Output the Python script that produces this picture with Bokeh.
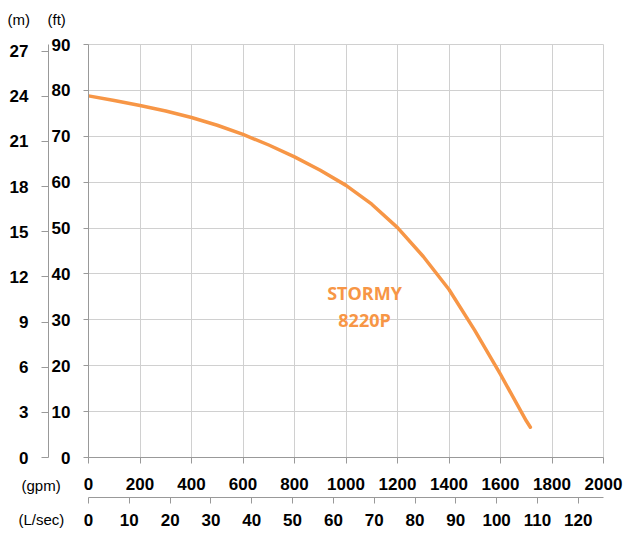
from bokeh.plotting import figure
from bokeh.models import Range1d, LinearAxis, FixedTicker, Label, Title
from bokeh.embed import file_html
from bokeh.resources import INLINE

# Pump curve: flow (gpm) vs head (ft)
flow_gpm = [0, 100, 200, 300, 400, 500, 600, 700, 800, 900, 1000, 1100,
            1200, 1300, 1400, 1500, 1600, 1700, 1716]
head_ft = [78.8, 77.8, 76.7, 75.5, 74.1, 72.4, 70.4, 68.1, 65.5, 62.6, 59.3, 55.2,
           50.1, 43.8, 36.6, 27.7, 18.1, 8.0, 6.6]

gpm_ticks = list(range(0, 2001, 200))
ft_ticks = list(range(0, 91, 10))
m_ticks = list(range(0, 28, 3))
ls_ticks = list(range(0, 121, 10))

series_label = ["STORMY", "8220P"]

GPM_MAX = 2000
FT_MAX = 90
GPM_PER_LS = 15.850
M_PER_FT = 0.3048

ORANGE = "#F79646"
GRID = "#d0d0d0"
AXIS = "#999999"
TICK_FONT = "Liberation Sans"

p = figure(width=623, height=534,
           x_range=Range1d(0, GPM_MAX), y_range=Range1d(0, FT_MAX),
           output_backend="svg", toolbar_location=None,
           min_border_left=88, min_border_right=20,
           min_border_top=44, min_border_bottom=77)
p.extra_y_ranges = {"m": Range1d(0, FT_MAX * M_PER_FT)}
p.extra_x_ranges = {"ls": Range1d(0, GPM_MAX / GPM_PER_LS)}

p.outline_line_color = GRID
p.background_fill_color = "white"
p.border_fill_color = "white"


def style_axis(ax, tick_out, standoff, color=AXIS):
    ax.axis_line_color = color
    ax.axis_line_width = 1
    ax.major_tick_line_color = color
    ax.major_tick_line_width = 1
    ax.major_tick_in = 0
    ax.major_tick_out = tick_out
    ax.minor_tick_line_color = None
    ax.major_label_text_font = TICK_FONT
    ax.major_label_text_font_style = "bold"
    ax.major_label_text_font_size = "17px"
    ax.major_label_text_color = "black"
    ax.major_label_standoff = standoff


def unit_title(txt, offset, pitch, slot=0):
    # the caption is the first line of a two-line title; the empty second line
    # and a negative standoff keep the side-panel slot at the wanted height
    fh = 17
    return Title(text=txt + "\n", align="left", offset=offset,
                 standoff=slot - (2 + fh + pitch), text_line_height=pitch / fh,
                 vertical_align="middle", text_font=TICK_FONT, text_font_size="15px",
                 text_font_style="normal", text_color="black")


# gpm (inner bottom)
xa = p.xaxis[0]
xa.ticker = FixedTicker(ticks=gpm_ticks)
style_axis(xa, 6, 14)

# ft (inner left)
ya = p.yaxis[0]
ya.ticker = FixedTicker(ticks=ft_ticks)
style_axis(ya, 5, 13)

# m (outer left)
ma = LinearAxis(y_range_name="m", ticker=FixedTicker(ticks=m_ticks))
style_axis(ma, 7, 13)
p.add_layout(ma, "left")

# unit captions, kept in the side panels so they are not clipped to the frame
p.add_layout(unit_title("(m)", -81, 51), "above")
p.add_layout(unit_title("(ft)", -41, 51), "above")
p.add_layout(unit_title("(gpm)", -67, 20, slot=5), "below")

# L/sec (outer bottom)
la = LinearAxis(x_range_name="ls", ticker=FixedTicker(ticks=ls_ticks))
style_axis(la, 6, 10)
p.add_layout(la, "below")

p.add_layout(unit_title("(L/sec)", -70, 19), "below")

p.xgrid.ticker = FixedTicker(ticks=gpm_ticks)
p.ygrid.ticker = FixedTicker(ticks=ft_ticks)
p.grid.grid_line_color = GRID
p.grid.grid_line_width = 1

p.line(flow_gpm, head_ft, line_color=ORANGE, line_width=3.5,
       line_cap="round", line_join="round")

# series label
for i, txt in enumerate(series_label):
    p.add_layout(Label(x=1072, y=35.9 - i * 6.0, text=txt,
                       text_font="Open Sans", text_font_style="bold",
                       text_font_size="18px", text_color=ORANGE,
                       text_align="center", text_baseline="middle"))

open("out.html", "w").write(file_html(p, INLINE))
